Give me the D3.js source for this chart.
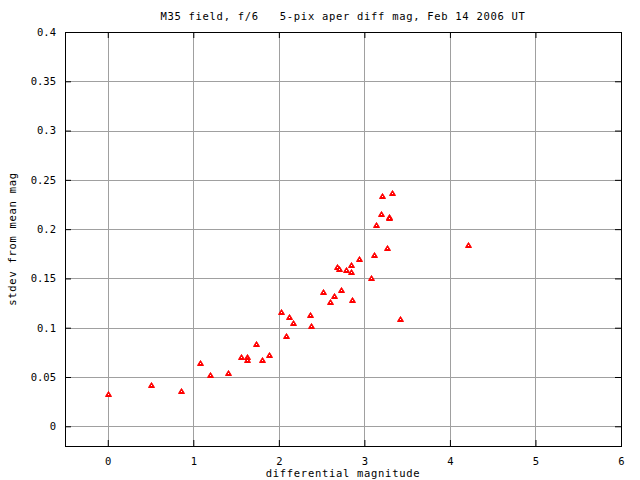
<!DOCTYPE html>
<html>
<head>
<meta charset="utf-8">
<script src="https://cdn.jsdelivr.net/npm/d3@7"></script>
<style>
  body { margin: 0; background: #fff; }
  text { font-family: "DejaVu Sans Mono", monospace; font-size: 10.5px; fill: #000; white-space: pre; }
  .label { letter-spacing: 0.7px; }
</style>
</head>
<body>
<svg id="chart" width="640" height="480"></svg>
<script>
// ------ data
var diffMag = [0.00, 0.51, 0.86, 1.08, 1.19, 1.41, 1.56, 1.63, 1.63, 1.73, 1.80, 1.89,
               2.02, 2.08, 2.12, 2.17, 2.37, 2.38, 2.52, 2.60, 2.65, 2.68, 2.70, 2.73,
               2.79, 2.84, 2.84, 2.86, 2.94, 3.08, 3.11, 3.14, 3.20, 3.21, 3.27, 3.29,
               3.29, 3.32, 3.42, 4.21];
var stdevMag = [0.033, 0.042, 0.036, 0.064, 0.052, 0.054, 0.070, 0.070, 0.067, 0.083, 0.067, 0.072,
                0.116, 0.092, 0.111, 0.105, 0.113, 0.102, 0.136, 0.126, 0.132, 0.162, 0.160, 0.138,
                0.159, 0.164, 0.157, 0.128, 0.170, 0.150, 0.174, 0.204, 0.215, 0.234, 0.181, 0.212,
                0.211, 0.237, 0.109, 0.184];
var xTicks = [0, 1, 2, 3, 4, 5, 6];
var yTicks = [0, 0.05, 0.1, 0.15, 0.2, 0.25, 0.3, 0.35, 0.4];

var titleText = "M35 field, f/6   5-pix aper diff mag, Feb 14 2006 UT";
var xLabel = "differential magnitude";
var yLabel = "stdev from mean mag";

// Margins and sizes
var margin = {top: 32, right: 19, bottom: 34, left: 65},
    width = 640 - margin.left - margin.right,
    height = 480 - margin.top - margin.bottom;

var x = d3.scaleLinear().domain([-0.5, 6]).range([0, width]);
var y = d3.scaleLinear().domain([-0.02, 0.4]).range([height, 0]);

var svg = d3.select("#chart");
var g = svg.append("g")
    .attr("transform", "translate(" + margin.left + "," + margin.top + ")");

// grid
g.selectAll(".vgrid").data(xTicks).enter().append("line")
    .attr("x1", d => Math.round(x(d)) + 0.5).attr("x2", d => Math.round(x(d)) + 0.5)
    .attr("y1", 0).attr("y2", height)
    .attr("stroke", "#a0a0a0").attr("stroke-width", 1);
g.selectAll(".hgrid").data(yTicks).enter().append("line")
    .attr("y1", d => Math.round(y(d)) + 0.5).attr("y2", d => Math.round(y(d)) + 0.5)
    .attr("x1", 0).attr("x2", width)
    .attr("stroke", "#a0a0a0").attr("stroke-width", 1);

// axes (gnuplot style: inward ticks on all four sides)
var fmtY = d => d === 0 ? "0" : String(+d.toFixed(2));
var xAxisB = d3.axisBottom(x).tickValues(xTicks).tickSize(-6).tickPadding(12).tickFormat(d3.format("d"));
var xAxisT = d3.axisTop(x).tickValues(xTicks).tickSize(-6).tickFormat("");
var yAxisL = d3.axisLeft(y).tickValues(yTicks).tickSize(-6).tickPadding(9).tickFormat(fmtY);
var yAxisR = d3.axisRight(y).tickValues(yTicks).tickSize(-6).tickFormat("");

function styleAxis(sel) {
  sel.select(".domain").remove();
  sel.selectAll(".tick line").attr("stroke", "#000");
  sel.selectAll("text").style("font-family", "DejaVu Sans Mono, monospace").style("font-size", "10.5px");
}
g.append("g").attr("transform", "translate(0," + height + ")").call(xAxisB).call(styleAxis);
g.append("g").call(xAxisT).call(styleAxis);
g.append("g").call(yAxisL).call(styleAxis);
g.append("g").attr("transform", "translate(" + width + ",0)").call(yAxisR).call(styleAxis);

// frame
g.append("rect")
    .attr("x", 0.5).attr("y", 0.5).attr("width", width).attr("height", height)
    .attr("fill", "none").attr("stroke", "#000").attr("stroke-width", 1);

// points: small red triangles with a white centre pixel
var pts = g.selectAll(".pt").data(diffMag).enter().append("g")
    .attr("transform", (d, i) => "translate(" + Math.round(x(d)) + "," + Math.round(y(stdevMag[i])) + ")");
pts.append("path")
    .attr("d", "M0.5,-2.5 L3.5,2.5 L-2.5,2.5 Z")
    .attr("fill", "#ff0000").attr("stroke", "#ff0000").attr("stroke-width", 1);
pts.append("rect")
    .attr("x", 0).attr("y", 0).attr("width", 1).attr("height", 1)
    .attr("fill", "#fff");

// title and axis labels
svg.append("text").attr("class", "label")
    .attr("x", margin.left + width / 2).attr("y", 20)
    .attr("text-anchor", "middle")
    .text(titleText);
svg.append("text").attr("class", "label")
    .attr("x", margin.left + width / 2).attr("y", 477)
    .attr("text-anchor", "middle")
    .text(xLabel);
svg.append("text").attr("class", "label")
    .attr("transform", "translate(16," + (margin.top + height / 2) + ") rotate(-90)")
    .attr("text-anchor", "middle")
    .text(yLabel);
</script>
</body>
</html>
